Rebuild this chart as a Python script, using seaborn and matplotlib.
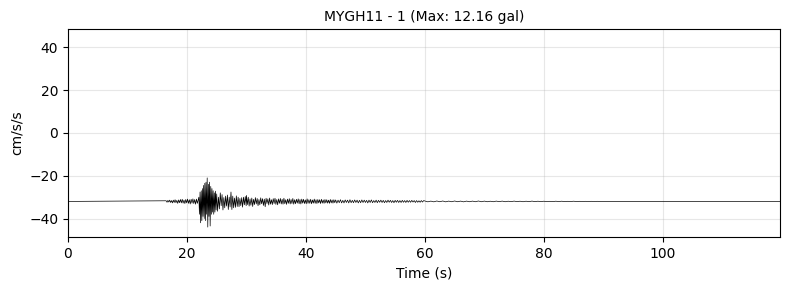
import numpy as np
import pandas as pd
import matplotlib
matplotlib.use("Agg")
import matplotlib.pyplot as plt
import seaborn as sns

# ---- data (cm/s/s) ----
title = "MYGH11 - 1 (Max: 12.16 gal)"
baseline = -32.0
t_end = 119.7
max_gal = 12.16

# segment start times (s) and sample spacing (s)
seg_start = [16.5, 22.0, 25.0, 30.0, 45.0, 60.0]
seg_step = [0.15, 0.1, 0.15, 0.15, 0.2, 0.5]

# peak deviations from the baseline, per segment
seg_a = [0.3, -0.4, 0.5, -0.3, 0.6, -0.5, 0.4, -0.7, 0.6, -0.5, 0.8, -0.6, 0.5, -0.9,
         0.7, -0.6, 0.9, -0.7, 1.0, -0.8, 0.6, -1.0, 0.9, -0.7, 1.1, -0.9, 0.8, -1.2,
         1.0, -0.8, 1.2, -1.0, 0.9, -1.3, 1.1, -0.9]
seg_b = [2.0, -6.0, 4.4, -10.0, 5.0, -9.0, 6.0, -7.0, 7.5, -8.0, 8.5, -9.0, 9.0, -6.0,
         11.0, -12.0, 8.0, -7.0, 9.0, -11.5, 7.0, -6.0, 6.0, -5.0, 5.0, -6.0, 4.0, -5.0,
         4.8, -4.0]
seg_c = [3.5, -4.6, 2.0, -3.5, 4.0, -2.0, 3.2, -4.0, 1.8, -3.0, 2.5, -2.2, 3.0, -3.8,
         2.0, -2.6, 4.4, -3.8, 2.5, -3.0, 1.6, -2.8, 2.6, -2.4, 2.0, -2.5, 1.4, -2.0,
         1.8, -2.7, 2.0, -1.6, 2.3, -2.0]
seg_d = [2.8, -1.5, 2.0, -2.2, 1.2, -1.8, 1.6, -2.4, 1.0, -1.5, 1.8, -1.2, 1.4, -2.0,
         0.9, -1.6, 1.7, -1.1, 1.3, -1.9,
         1.1, -2.5, 1.5, -1.0, 1.2, -1.7, 1.6, -1.3, 0.8, -1.5, 1.3, -1.0, 1.5, -1.4,
         0.9, -1.6, 1.2, -0.9, 1.4, -1.2,
         1.0, -1.3, 1.5, -1.1, 0.8, -1.4, 1.1, -0.9, 1.3, -1.2, 0.9, -1.0, 1.4, -1.3,
         0.8, -1.1, 1.0, -0.8, 1.2, -1.1,
         0.9, -1.2, 1.1, -0.8, 1.0, -1.0, 0.7, -1.1, 1.2, -0.9, 0.8, -0.9, 1.0, -1.1,
         0.7, -0.8, 1.1, -0.9, 0.8, -1.0,
         0.9, -0.7, 0.8, -1.0, 1.0, -0.8, 0.7, -0.9, 0.9, -0.7, 0.8, -0.8, 0.6, -0.9,
         0.9, -0.7, 0.7, -0.8, 0.8, -0.6]
seg_e = [0.7, -0.8, 0.6, -0.6, 0.8, -0.7, 0.5, -0.7, 0.7, -0.5, 0.6, -0.7, 0.8, -0.6,
         0.5, -0.6, 0.7, -0.5, 0.6, -0.7,
         0.5, -0.6, 0.7, -0.5, 0.6, -0.5, 0.5, -0.7, 0.6, -0.5, 0.7, -0.6, 0.4, -0.5,
         0.6, -0.6, 0.5, -0.4, 0.6, -0.5,
         0.5, -0.6, 0.4, -0.5, 0.6, -0.4, 0.5, -0.5, 0.4, -0.6, 0.5, -0.4, 0.5, -0.5,
         0.4, -0.5, 0.5, -0.4, 0.4, -0.5,
         0.5, -0.4, 0.4, -0.4, 0.5, -0.3, 0.4, -0.5, 0.4, -0.4, 0.3, -0.4, 0.4, -0.3, 0.4]
seg_f = [0.2, -0.2, 0.15, -0.2, 0.2, -0.15, 0.2, -0.2, 0.15, -0.15, 0.2, -0.15, 0.15, -0.2,
         0.15, -0.15, 0.15, -0.15, 0.2, -0.15,
         0.15, -0.15, 0.1, -0.15, 0.15, -0.1, 0.15, -0.15, 0.1, -0.1, 0.15, -0.1, 0.1, -0.15,
         0.1, -0.1, 0.15, -0.1, 0.1, -0.1,
         0.1, -0.1, 0.05, -0.1, 0.1, -0.05, 0.1, -0.1, 0.05, -0.05, 0.1, -0.05, 0.05, -0.05,
         0.05, -0.05, 0.05, -0.05, 0.05, -0.05]
segments = [seg_a, seg_b, seg_c, seg_d, seg_e, seg_f]

# ---- assemble the trace ----
times = [0.0]
vals = [baseline]
for start, step, seg in zip(seg_start, seg_step, segments):
    for i, v in enumerate(seg):
        times.append(start + step * i)
        vals.append(baseline + v)
times.append(t_end)
vals.append(baseline)
df = pd.DataFrame({"Time (s)": times, "cm/s/s": vals})

plt.rcParams["font.family"] = ["DejaVu Sans"]

fig, ax = plt.subplots(figsize=(7.9, 2.9), dpi=100)
fig.subplots_adjust(left=68 / 790, right=780 / 790, top=1 - 29 / 290, bottom=1 - 237 / 290)
sns.lineplot(data=df, x="Time (s)", y="cm/s/s", ax=ax, color="black",
             linewidth=0.5, sort=False, estimator=None)
ax.set_xlim(0, t_end)
ax.set_ylim(-4 * max_gal, 4 * max_gal)
ax.grid(True, alpha=0.3)
ax.set_title(title, fontsize=10)
ax.set_xlabel("Time (s)")
ax.set_ylabel("cm/s/s")
fig.savefig("out.png", dpi=100)
